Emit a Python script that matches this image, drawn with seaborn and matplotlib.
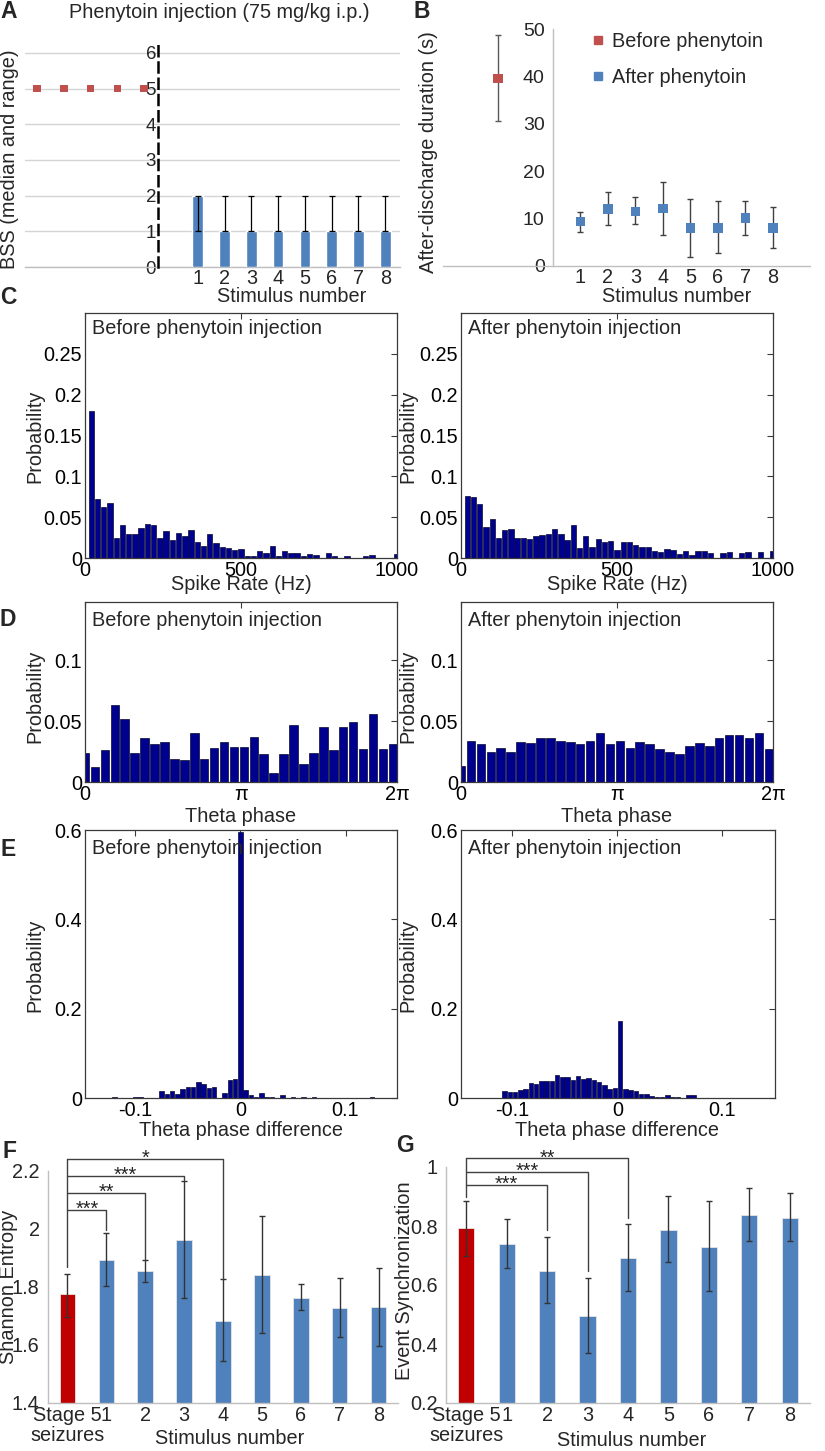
import numpy as np
import pandas as pd
import matplotlib
matplotlib.use("Agg")
import matplotlib.pyplot as plt
import seaborn as sns
from matplotlib.lines import Line2D

# ---------------- data ----------------
# Panel A: behavioural seizure stage (median and range)
bss_before_median = [5, 5, 5, 5, 5]
bss_after_stim = [1, 2, 3, 4, 5, 6, 7, 8]
bss_after_median = [2, 1, 1, 1, 1, 1, 1, 1]
bss_after_low = [1, 1, 1, 1, 1, 1, 1, 1]
bss_after_high = [2, 2, 2, 2, 2, 2, 2, 2]

# Panel B: after-discharge duration (s)
ad_before_mean = 39.6
ad_before_low = 30.5
ad_before_high = 48.8
ad_after_stim = [1, 2, 3, 4, 5, 6, 7, 8]
ad_after_mean = [9.4, 12.0, 11.5, 12.1, 8.0, 8.0, 10.1, 8.0]
ad_after_low = [7.25, 8.6, 8.9, 6.5, 1.8, 2.7, 6.5, 3.9]
ad_after_high = [11.3, 15.6, 14.6, 17.7, 14.1, 13.7, 13.7, 12.4]

# Panel C: spike rate histograms (bin centres 20..1000 Hz)
rate_centers = np.arange(20, 1001, 20)
rate_before = [0.180, 0.072, 0.063, 0.067, 0.024, 0.040, 0.030, 0.030, 0.037, 0.042,
               0.040, 0.024, 0.033, 0.022, 0.031, 0.027, 0.034, 0.020, 0.015, 0.029,
               0.018, 0.014, 0.012, 0.010, 0.011, 0.003, 0.003, 0.008, 0.006, 0.015,
               0.002, 0.008, 0.006, 0.006, 0.003, 0.005, 0.004, 0.000, 0.006, 0.002,
               0.000, 0.002, 0.000, 0.000, 0.002, 0.004, 0.000, 0.000, 0.000, 0.005]
rate_after = [0.076, 0.075, 0.066, 0.038, 0.048, 0.024, 0.034, 0.035, 0.025, 0.024,
              0.023, 0.027, 0.028, 0.030, 0.036, 0.030, 0.022, 0.041, 0.012, 0.027,
              0.013, 0.023, 0.019, 0.021, 0.010, 0.019, 0.019, 0.016, 0.013, 0.013,
              0.008, 0.007, 0.011, 0.010, 0.005, 0.008, 0.004, 0.008, 0.008, 0.006,
              0.000, 0.006, 0.007, 0.000, 0.006, 0.007, 0.000, 0.007, 0.000, 0.009]

# Panel D: theta phase histograms (bin centres 0..6.2 rad)
phase_centers = np.round(np.arange(32) * 0.2, 3)
phase_before = [0.024, 0.012, 0.026, 0.063, 0.052, 0.024, 0.036, 0.031, 0.033, 0.019,
                0.018, 0.040, 0.019, 0.028, 0.033, 0.029, 0.029, 0.037, 0.023, 0.007,
                0.023, 0.047, 0.015, 0.024, 0.045, 0.026, 0.045, 0.049, 0.027, 0.056,
                0.027, 0.031]
phase_after = [0.013, 0.034, 0.031, 0.025, 0.028, 0.025, 0.033, 0.032, 0.036, 0.036,
               0.034, 0.033, 0.031, 0.034, 0.040, 0.031, 0.034, 0.028, 0.033, 0.031,
               0.027, 0.025, 0.023, 0.030, 0.032, 0.030, 0.036, 0.039, 0.039, 0.036,
               0.040, 0.027]

# Panel E: theta phase difference histograms
diff_centers_before = np.round(np.arange(-0.120, 0.1251, 0.005), 4)
diff_before = [0.002, 0.000, 0.000, 0.000, 0.003, 0.002, 0.000, 0.000, 0.001, 0.015,
               0.010, 0.015, 0.010, 0.021, 0.025, 0.025, 0.036, 0.031, 0.022, 0.025,
               0.000, 0.011, 0.040, 0.043, 0.595, 0.017, 0.007, 0.003, 0.011, 0.002,
               0.002, 0.000, 0.007, 0.000, 0.002, 0.000, 0.002, 0.000, 0.002, 0.000,
               0.000, 0.000, 0.000, 0.000, 0.000, 0.000, 0.000, 0.000, 0.000, 0.002]
diff_centers_after = np.round(np.arange(-0.1125, 0.0776, 0.005), 4)
diff_after = [0.001, 0.016, 0.013, 0.013, 0.018, 0.021, 0.034, 0.032, 0.039, 0.037,
              0.038, 0.052, 0.048, 0.046, 0.041, 0.049, 0.042, 0.044, 0.041, 0.035,
              0.030, 0.021, 0.022, 0.172, 0.021, 0.017, 0.015, 0.009, 0.009, 0.004,
              0.003, 0.003, 0.006, 0.003, 0.002, 0.001, 0.006, 0.006, 0.001]

# Panels F and G
group_labels = ["Stage 5\nseizures", "1", "2", "3", "4", "5", "6", "7", "8"]
entropy_mean = [1.775, 1.894, 1.855, 1.962, 1.684, 1.842, 1.762, 1.728, 1.730]
entropy_low = [1.698, 1.805, 1.818, 1.761, 1.546, 1.641, 1.719, 1.627, 1.598]
entropy_high = [1.845, 1.985, 1.893, 2.166, 1.827, 2.046, 1.810, 1.830, 1.864]
sync_mean = [0.792, 0.739, 0.649, 0.494, 0.692, 0.788, 0.730, 0.837, 0.828]
sync_low = [0.699, 0.658, 0.539, 0.369, 0.579, 0.678, 0.579, 0.750, 0.748]
sync_high = [0.886, 0.824, 0.763, 0.624, 0.806, 0.901, 0.886, 0.929, 0.913]
entropy_sig = [(1, "***"), (2, "**"), (3, "***"), (4, "*")]
sync_sig = [(2, "***"), (3, "***"), (4, "**")]

# ---------------- style ----------------
sns.set_style("white")
plt.rcParams['font.family'] = ['Liberation Sans', 'DejaVu Sans']
FS = 14.3
plt.rcParams['font.size'] = FS

RED = "#C0504D"
RED2 = "#C00000"
BLUE = "#4F81BD"
NAVY = "#00008F"
GRAY = "#BFBFBF"
EGRAY = "#595959"

W, H = 825, 1451
fig = plt.figure(figsize=(W / 100, H / 100), dpi=100)


def px_axes(x0, y0, x1, y1):
    return fig.add_axes([x0 / W, 1 - y1 / H, (x1 - x0) / W, (y1 - y0) / H])


def ftext(x, y, s, **kw):
    kw.setdefault('ha', 'center')
    kw.setdefault('va', 'center')
    kw.setdefault('fontsize', FS)
    return fig.text(x / W, 1 - y / H, s, **kw)


def excel_axes(ax):
    ax.spines['top'].set_visible(False)
    ax.spines['right'].set_visible(False)
    ax.spines['bottom'].set_color(GRAY)
    ax.spines['left'].set_color(GRAY)
    ax.spines['bottom'].set_linewidth(1)
    ax.spines['left'].set_linewidth(1)
    ax.set_xlabel('')
    ax.set_ylabel('')


# ---------------- Panel A ----------------
axA = px_axes(25, 43, 400, 267)
dfA = pd.DataFrame({'stim': bss_after_stim, 'bss': bss_after_median})
sns.barplot(data=dfA, x='stim', y='bss', native_scale=True, width=0.4,
            color=BLUE, saturation=1, errorbar=None, ax=axA, zorder=3)
med = np.array(bss_after_median)
axA.errorbar(bss_after_stim, med, yerr=[med - np.array(bss_after_low), np.array(bss_after_high) - med],
             fmt='none', ecolor='black', elinewidth=0.9, capsize=2, capthick=0.9, zorder=4)
before_pos = np.arange(-len(bss_before_median), 0)
sns.scatterplot(x=before_pos, y=bss_before_median, marker='s', color=RED, s=30,
                edgecolor='none', ax=axA, zorder=5)
axA.set_xlim(-5.45, 8.55)
axA.set_ylim(0, 6.28)
excel_axes(axA)
axA.spines['left'].set_position(('data', -0.5))
axA.spines['left'].set_color('black')
axA.spines['left'].set_linewidth(1.8)
axA.spines['left'].set_linestyle((0, (4, 2.5)))
axA.spines['left'].set_zorder(6)
axA.set_yticks(range(7))
axA.set_yticklabels([str(i) for i in range(7)])
axA.tick_params(axis='y', length=0, pad=1, labelsize=13.5)
axA.set_xticks(bss_after_stim)
axA.set_xticklabels([str(s) for s in bss_after_stim])
axA.set_xticks(np.arange(0.5, 9, 1), minor=True)
axA.tick_params(axis='x', which='major', length=0, pad=1.5, labelsize=FS)
axA.tick_params(axis='x', which='minor', length=4, width=1, color=GRAY, direction='out')
axA.yaxis.grid(True, color='#D4D4D4', lw=1)
axA.set_axisbelow(True)
ftext(219, 13, "Phenytoin injection (75 mg/kg i.p.)")
ftext(10, 159, "BSS (median and range)", rotation=90)
ftext(292, 297, "Stimulus number")
ftext(9, 11, "A", fontweight='bold', fontsize=16.5)

# ---------------- Panel B ----------------
axB = px_axes(443, 29, 810, 266)
after_pos = np.array(ad_after_stim) + 4
before_x = 2
axB.errorbar([before_x], [ad_before_mean], yerr=[[ad_before_mean - ad_before_low], [ad_before_high - ad_before_mean]],
             fmt='none', ecolor=EGRAY, elinewidth=1, capsize=2, capthick=1, zorder=2)
am = np.array(ad_after_mean)
axB.errorbar(after_pos, am, yerr=[am - np.array(ad_after_low), np.array(ad_after_high) - am],
             fmt='none', ecolor='#404040', elinewidth=1, capsize=2, capthick=1, zorder=2)
sns.scatterplot(x=[before_x], y=[ad_before_mean], marker='s', color=RED, s=45, edgecolor='none',
                ax=axB, zorder=3, legend=False)
sns.scatterplot(x=after_pos, y=ad_after_mean, marker='s', color=BLUE, s=45, edgecolor='none',
                ax=axB, zorder=3, legend=False)
axB.set_xlim(0, 13.35)
axB.set_ylim(0, 50)
excel_axes(axB)
axB.spines['left'].set_position(('data', 4))
axB.set_yticks(range(0, 51, 10))
axB.tick_params(axis='y', length=4, width=1, color=GRAY, pad=2, labelsize=14)
axB.set_xticks(after_pos)
axB.set_xticklabels([str(s) for s in ad_after_stim])
axB.set_xticks([0, 1, 2, 3, 13], minor=True)
axB.tick_params(axis='x', which='major', length=0, pad=1.5, labelsize=FS)
axB.tick_params(axis='x', which='minor', length=4, width=1, color=GRAY, direction='out')
handles = [Line2D([], [], marker='s', ls='none', color=RED, markersize=6),
           Line2D([], [], marker='s', ls='none', color=BLUE, markersize=6)]
axB.legend(handles, ["Before phenytoin", "After phenytoin"], loc='upper left',
           bbox_to_anchor=(582 / W, 1 - 22 / H), bbox_transform=fig.transFigure,
           frameon=False, borderpad=0, handlelength=0.6, handletextpad=0.4,
           labelspacing=0.85, fontsize=FS)
ftext(429, 152, "After-discharge duration (s)", rotation=90)
ftext(677, 297, "Stimulus number")
ftext(422, 11, "B", fontweight='bold', fontsize=16.5)


# ---------------- histogram panels ----------------
def hist_panel(box, centers, probs, width, xlim, ylim, xticks, xticklabels, yticks, yticklabels):
    ax = px_axes(*box)
    centers = np.asarray(centers, dtype=float)
    edges = np.append(centers - width / 2, centers[-1] + width / 2).tolist()
    dfh = pd.DataFrame({'center': centers, 'prob': np.asarray(probs, dtype=float)})
    sns.histplot(data=dfh, x='center', weights='prob', bins=edges, shrink=0.86, color=NAVY,
                 edgecolor='#0a0a30', linewidth=0.5, alpha=1, ax=ax)
    ax.set_xlim(*xlim)
    ax.set_ylim(*ylim)
    ax.set_xticks(xticks)
    ax.set_xticklabels(xticklabels)
    ax.set_yticks(yticks)
    ax.set_yticklabels(yticklabels)
    for sp in ax.spines.values():
        sp.set_visible(True)
        sp.set_color('#3a3a3a')
        sp.set_linewidth(0.9)
    ax.tick_params(direction='in', top=True, right=True, length=4, width=0.8,
                   color='#3a3a3a', labelcolor='black', labelsize=FS, pad=2)
    ax.set_xlabel('')
    ax.set_ylabel('')
    return ax


c_yt = [0, 0.05, 0.1, 0.15, 0.2, 0.25]
c_ytl = ['0', '0.05', '0.1', '0.15', '0.2', '0.25']
hist_panel((85, 313, 397, 558), rate_centers, rate_before, 20, (0, 1000), (0, 0.3),
           [0, 500, 1000], ['0', '500', '1000'], c_yt, c_ytl)
hist_panel((461, 313, 773, 558), rate_centers, rate_after, 20, (0, 1000), (0, 0.3),
           [0, 500, 1000], ['0', '500', '1000'], c_yt, c_ytl)
ftext(92, 329, "Before phenytoin injection", ha='left')
ftext(468, 329, "After phenytoin injection", ha='left')
ftext(35, 436, "Probability", rotation=90)
ftext(408, 436, "Probability", rotation=90)
ftext(241, 585, "Spike Rate (Hz)")
ftext(617, 585, "Spike Rate (Hz)")
ftext(8, 297, "C", fontweight='bold', fontsize=16.5)

d_yt = [0, 0.05, 0.1]
d_ytl = ['0', '0.05', '0.1']
hist_panel((85, 602, 397, 782), phase_centers, phase_before, 0.2, (0, 2 * np.pi), (0, 0.148),
           [0, np.pi, 2 * np.pi], ['0', 'π', '2π'], d_yt, d_ytl)
hist_panel((461, 602, 773, 782), phase_centers, phase_after, 0.2, (0, 2 * np.pi), (0, 0.148),
           [0, np.pi, 2 * np.pi], ['0', 'π', '2π'], d_yt, d_ytl)
ftext(92, 620, "Before phenytoin injection", ha='left')
ftext(468, 620, "After phenytoin injection", ha='left')
ftext(35, 696, "Probability", rotation=90)
ftext(408, 696, "Probability", rotation=90)
ftext(241, 816, "Theta phase")
ftext(617, 816, "Theta phase")
ftext(8, 619, "D", fontweight='bold', fontsize=16.5)

e_yt = [0, 0.2, 0.4, 0.6]
e_ytl = ['0', '0.2', '0.4', '0.6']
hist_panel((85, 830, 397, 1098), diff_centers_before, diff_before, 0.005, (-0.148, 0.149), (0, 0.6),
           [-0.1, 0, 0.1], ['-0.1', '0', '0.1'], e_yt, e_ytl)
hist_panel((461, 830, 775, 1098), diff_centers_after, diff_after, 0.005, (-0.149, 0.150), (0, 0.6),
           [-0.1, 0, 0.1], ['-0.1', '0', '0.1'], e_yt, e_ytl)
ftext(92, 849, "Before phenytoin injection", ha='left')
ftext(468, 849, "After phenytoin injection", ha='left')
ftext(35, 965, "Probability", rotation=90)
ftext(408, 965, "Probability", rotation=90)
ftext(241, 1131, "Theta phase difference")
ftext(617, 1131, "Theta phase difference")
ftext(8, 850, "E", fontweight='bold', fontsize=16.5)


# ---------------- Panels F & G ----------------
def bar_panel(box, means, lows, highs, ylim, yticks, yticklabels, sig, level0, level_step, left_bottom,
              right_bottoms):
    ax = px_axes(*box)
    df = pd.DataFrame({'group': group_labels, 'value': means})
    sns.barplot(data=df, x='group', y='value', hue='group', palette=[RED2] + [BLUE] * 8,
                width=0.4, saturation=1, legend=False, errorbar=None, ax=ax,
                edgecolor='#E6E6E6', linewidth=0.6)
    m = np.array(means)
    ax.errorbar(np.arange(len(means)), m, yerr=[m - np.array(lows), np.array(highs) - m],
                fmt='none', ecolor='#333333', elinewidth=1, capsize=2, capthick=1)
    ax.set_xlim(-0.5, len(means) - 0.5)
    ax.set_ylim(*ylim)
    excel_axes(ax)
    ax.set_yticks(yticks)
    ax.set_yticklabels(yticklabels)
    ax.tick_params(axis='y', length=4, width=1, color=GRAY, pad=2, labelsize=FS)
    ax.set_xticks(np.arange(-0.5, len(means), 1), minor=True)
    ax.tick_params(axis='x', which='major', length=0, pad=2.5, labelsize=FS)
    ax.tick_params(axis='x', which='minor', length=4, width=1, color=GRAY, direction='out')
    for label in ax.get_xticklabels():
        label.set_linespacing(1.05)
    top = level0 + level_step * (len(sig) - 1)
    ax.plot([0, 0], [left_bottom, top], color='#404040', lw=1, clip_on=False)
    for i, ((k, s), rb) in enumerate(zip(sig, right_bottoms)):
        lev = level0 + level_step * i
        ax.plot([0, k, k], [lev, lev, rb], color='#404040', lw=1, clip_on=False)
        ax.annotate(s, xy=(k / 2, lev), xytext=(0, -3.6), textcoords='offset points',
                    ha='center', va='baseline', fontsize=FS, annotation_clip=False)
    return ax


bar_panel((48, 1171, 398, 1403), entropy_mean, entropy_low, entropy_high, (1.4, 2.2),
          [1.4, 1.6, 1.8, 2.0, 2.2], ['1.4', '1.6', '1.8', '2', '2.2'],
          entropy_sig, 2.067, 0.0583, 1.87, [1.996, 1.893, 2.168, 1.826])
ftext(9, 1287, "Shannon Entropy", rotation=90)
ftext(230, 1439, "Stimulus number")
ftext(9, 1151, "F", fontweight='bold', fontsize=16.5)

bar_panel((446, 1167, 810, 1403), sync_mean, sync_low, sync_high, (0.2, 1.0),
          [0.2, 0.4, 0.6, 0.8, 1.0], ['0.2', '0.4', '0.6', '0.8', '1'],
          sync_sig, 0.938, 0.0455, 0.898, [0.788, 0.646, 0.826])
ftext(405, 1281, "Event Synchronization", rotation=90)
ftext(632, 1440, "Stimulus number")
ftext(405, 1146, "G", fontweight='bold', fontsize=16.5)

fig.savefig("out.png", dpi=100, facecolor='white')
